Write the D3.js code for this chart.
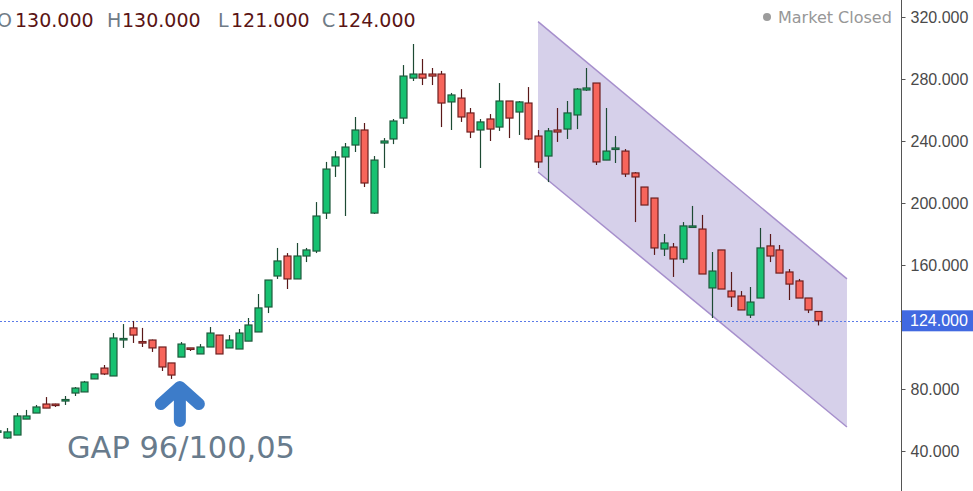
<!DOCTYPE html>
<html>
<head>
<meta charset="utf-8">
<script src="https://cdn.jsdelivr.net/npm/d3@7"></script>
<style>
  html, body { margin: 0; padding: 0; background: #ffffff; overflow: hidden; }
  svg { display: block; }
</style>
</head>
<body>
<svg id="chart" width="973" height="491"></svg>
<script>
// ---------------- DATA ----------------
const candleIndex = d3.range(0, 86);
const openVals  = [53,48.4,50.3,60.6,64.5,70.3,70.3,72.6,77.4,78.1,86.5,93.5,88.4,112.0,119.4,110.6,111.6,107.1,96.8,100.6,
  106.5,102.6,107.1,114.8,106.5,105.8,110.9,116.8,132.9,152.9,165.8,151.0,165.8,169.0,193.5,223.9,229.7,237.4,247.1,193.5,
  238.7,241.3,254.8,280.6,283.2,283.2,283.2,265.2,267.7,258.1,247.1,254.2,249.0,265.8,258.7,264.5,243.2,230.3,247.1,247.7,
  256.8,272.9,277.4,227.7,234.8,233.5,219.4,210.3,203.2,170.3,171.6,163.9,184.5,183.2,145.2,169.7,143.2,140.0,127.7,138.7,
  172.3,169.7,155.5,149.7,138.7,130];
const highVals  = [54,54.8,64.5,66.5,69.7,74.8,70.5,75.5,81.3,85.2,89.7,95.5,116.1,121.9,123.9,119.4,111.9,107.1,96.8,110.3,
  106.5,109.0,120.0,114.8,114.8,118.7,125.8,141.3,150.3,171.0,167.7,174.2,171.0,200.6,226.5,233.5,238.7,255.5,251.6,230.3,
  241.9,254.2,289.0,302.6,292.9,287.1,285.2,271.0,273.5,261.3,254.2,257.4,277.4,265.8,265.8,274.8,247.1,248.4,261.3,265.8,
  274.2,287.1,277.4,261.3,243.2,234.8,220.0,210.3,203.2,180.0,174.2,187.7,198.1,192.3,168.4,169.7,155.5,143.2,145.8,183.9,
  180.0,172.9,157.4,151.0,138.7,130];
const lowVals   = [52,48,50.3,60.6,64.5,67.7,68.4,69.7,75.5,78.1,86.5,89.0,88.4,106.5,109.7,107.1,103.9,91.6,86.5,100.6,
  104.5,102.6,107.1,102.6,106.5,105.8,110.9,116.8,129.0,151.0,144.5,151.0,161.9,167.7,189.7,216.8,191.6,232.9,210.3,192.9,
  222.6,238.0,251.0,278.7,276.1,276.1,249.0,247.1,252.3,241.9,222.6,240.0,246.5,241.9,243.9,240.6,222.6,213.5,239.4,241.3,
  247.7,272.3,224.5,227.7,225.8,216.8,187.7,198.7,166.5,165.8,152.3,161.3,183.9,154.2,125.8,144.5,132.9,131.0,125.8,138.7,
  161.9,154.8,137.4,138.7,129.0,121];
const closeVals = [53,52.3,62.6,62.6,68.4,67.7,70.0,73.2,80.6,84.5,89.7,89.7,112.9,112.6,114.8,110.0,106.5,94.2,89.0,109.0,
  105.8,107.1,116.1,102.6,111.6,116.1,121.3,132.3,150.3,162.6,151.0,165.8,169.7,191.6,221.9,229.7,236.1,247.1,212.9,227.7,
  240.0,252.9,281.9,283.2,280.6,281.9,264.5,269.7,255.5,245.8,252.3,247.7,265.8,254.8,265.2,241.3,226.5,246.5,245.8,258.1,
  273.5,274.2,226.5,233.5,235.5,218.7,216.8,198.7,171.0,174.2,163.9,185.2,185.2,154.2,156.1,144.5,139.4,131.0,136.1,171.0,
  165.8,154.8,147.7,138.7,131.0,124];

const yTickValues = [40, 80, 160, 200, 240, 280, 320];
const lastPrice = 124;
const headerLabels = ["O", "H", "L", "C"];
const headerValues = [130, 130, 121, 124];

// Descending channel: [candle index, upper price, lower price]
const channelIdx   = [56, 88];
const channelUpper = [317, 151];
const channelLower = [220, 55.5];

const gapText = "GAP 96/100,05";
const gapArrowIdx = 18.9;
const gapArrowPrices = [81.3, 59.4]; // tip price, tail price

// ---------------- SCALES ----------------
const svg = d3.select("#chart");
const x = d3.scaleLinear().domain([0, 85]).range([-2.6, 818]);
const y = d3.scaleLinear().domain([40, 320]).range([451, 17]);
const axisX = 901;

const candles = candleIndex.map(i => ({
  i, o: openVals[i], h: highVals[i], l: lowVals[i], c: closeVals[i]
}));

// ---------------- CHANNEL ----------------
const chPts = [
  [x(channelIdx[0]), y(channelUpper[0])],
  [x(channelIdx[1]), y(channelUpper[1])],
  [x(channelIdx[1]), y(channelLower[1])],
  [x(channelIdx[0]), y(channelLower[0])]
];
svg.append("path")
  .attr("d", "M" + chPts.map(p => p.join(",")).join("L") + "Z")
  .attr("fill", "#d6d0ea")
  .attr("stroke", "none");
svg.append("line")
  .attr("x1", chPts[0][0]).attr("y1", chPts[0][1])
  .attr("x2", chPts[1][0]).attr("y2", chPts[1][1])
  .attr("stroke", "#a68fcc").attr("stroke-width", 1.5);
svg.append("line")
  .attr("x1", chPts[3][0]).attr("y1", chPts[3][1])
  .attr("x2", chPts[2][0]).attr("y2", chPts[2][1])
  .attr("stroke", "#a68fcc").attr("stroke-width", 1.5);

// ---------------- LAST PRICE LINE ----------------
svg.append("line")
  .attr("x1", 0).attr("x2", axisX)
  .attr("y1", Math.round(y(lastPrice)) + 0.5).attr("y2", Math.round(y(lastPrice)) + 0.5)
  .attr("stroke", "#5a7ae8").attr("stroke-width", 1)
  .attr("stroke-dasharray", "2,2");

// ---------------- CANDLES ----------------
const bw = 7;
const g = svg.append("g");
candles.forEach(d => {
  const up = d.c >= d.o;
  const wick = up ? "#1d4a33" : "#5a1818";
  const cx = Math.round(x(d.i)) + 0.5;
  g.append("line")
    .attr("x1", cx).attr("x2", cx)
    .attr("y1", y(d.h)).attr("y2", y(d.l))
    .attr("stroke", wick).attr("stroke-width", 1.2);
  const top = y(Math.max(d.o, d.c));
  const bot = y(Math.min(d.o, d.c));
  const h = Math.max(bot - top, 1.5);
  g.append("rect")
    .attr("x", cx - bw / 2).attr("y", top)
    .attr("width", bw).attr("height", h)
    .attr("fill", up ? "#17c171" : "#f7655b")
    .attr("stroke", up ? "#1e5a3c" : "#6e1f1f")
    .attr("stroke-width", 1.2);
});

// ---------------- AXIS ----------------
const axis = d3.axisRight(y)
  .tickValues(yTickValues)
  .tickFormat(d3.format(".3f"))
  .tickSize(4)
  .tickPadding(5);
const ag = svg.append("g").attr("transform", `translate(${axisX + 0.5},0)`).call(axis);
ag.select(".domain").remove();
ag.selectAll(".tick line").attr("stroke", "#555");
ag.selectAll(".tick text")
  .attr("fill", "#4a4a4a")
  .style("font-family", "'Liberation Sans', Arial, sans-serif")
  .style("font-size", "16px");
svg.append("line")
  .attr("x1", axisX + 0.5).attr("x2", axisX + 0.5)
  .attr("y1", 0).attr("y2", 491)
  .attr("stroke", "#555").attr("stroke-width", 1);

// last price label
const ly = y(lastPrice);
svg.append("rect")
  .attr("x", axisX + 1).attr("y", ly - 10.5)
  .attr("width", 973 - axisX).attr("height", 21)
  .attr("fill", "#4169e1");
svg.append("text")
  .attr("x", axisX + 9).attr("y", ly + 5.5)
  .attr("fill", "#ffffff")
  .style("font-family", "'Liberation Sans', Arial, sans-serif")
  .style("font-size", "16px")
  .text(d3.format(".3f")(lastPrice));

// ---------------- HEADER ----------------
const hdrLabelX = [-3, 107, 218, 322];
const hdrValueX = [15, 122, 231, 337];
headerLabels.forEach((lab, k) => {
  svg.append("text")
    .attr("x", hdrLabelX[k]).attr("y", 27)
    .attr("fill", "#6f7b86")
    .style("font-family", "'DejaVu Sans', Verdana, sans-serif")
    .style("font-size", "19px")
    .text(lab);
  svg.append("text")
    .attr("x", hdrValueX[k]).attr("y", 27)
    .attr("fill", "#5a1414")
    .style("font-family", "'DejaVu Sans', Verdana, sans-serif")
    .style("font-size", "19px")
    .text(d3.format(".3f")(headerValues[k]));
});

svg.append("circle").attr("cx", 767).attr("cy", 17).attr("r", 4).attr("fill", "#9c9c9c");
svg.append("text")
  .attr("x", 778).attr("y", 23)
  .attr("fill", "#979797")
  .style("font-family", "'DejaVu Sans', Verdana, sans-serif")
  .style("font-size", "16px")
  .text("Market Closed");

// ---------------- GAP ANNOTATION ----------------
const ax = x(gapArrowIdx);
const tipY = y(gapArrowPrices[0]);
const tailY = y(gapArrowPrices[1]);
svg.append("path")
  .attr("d", `M${ax},${tailY}L${ax},${tipY + 2}M${ax - 19},${tipY + 17}L${ax},${tipY}L${ax + 19},${tipY + 17}`)
  .attr("fill", "none")
  .attr("stroke", "#3d7cc9")
  .attr("stroke-width", 12)
  .attr("stroke-linecap", "round")
  .attr("stroke-linejoin", "round");

svg.append("text")
  .attr("x", 67).attr("y", 458)
  .attr("fill", "#687b8c")
  .attr("textLength", 228)
  .attr("lengthAdjust", "spacingAndGlyphs")
  .style("font-family", "'DejaVu Sans', Verdana, sans-serif")
  .style("font-size", "30.5px")
  .text(gapText);
</script>
</body>
</html>
